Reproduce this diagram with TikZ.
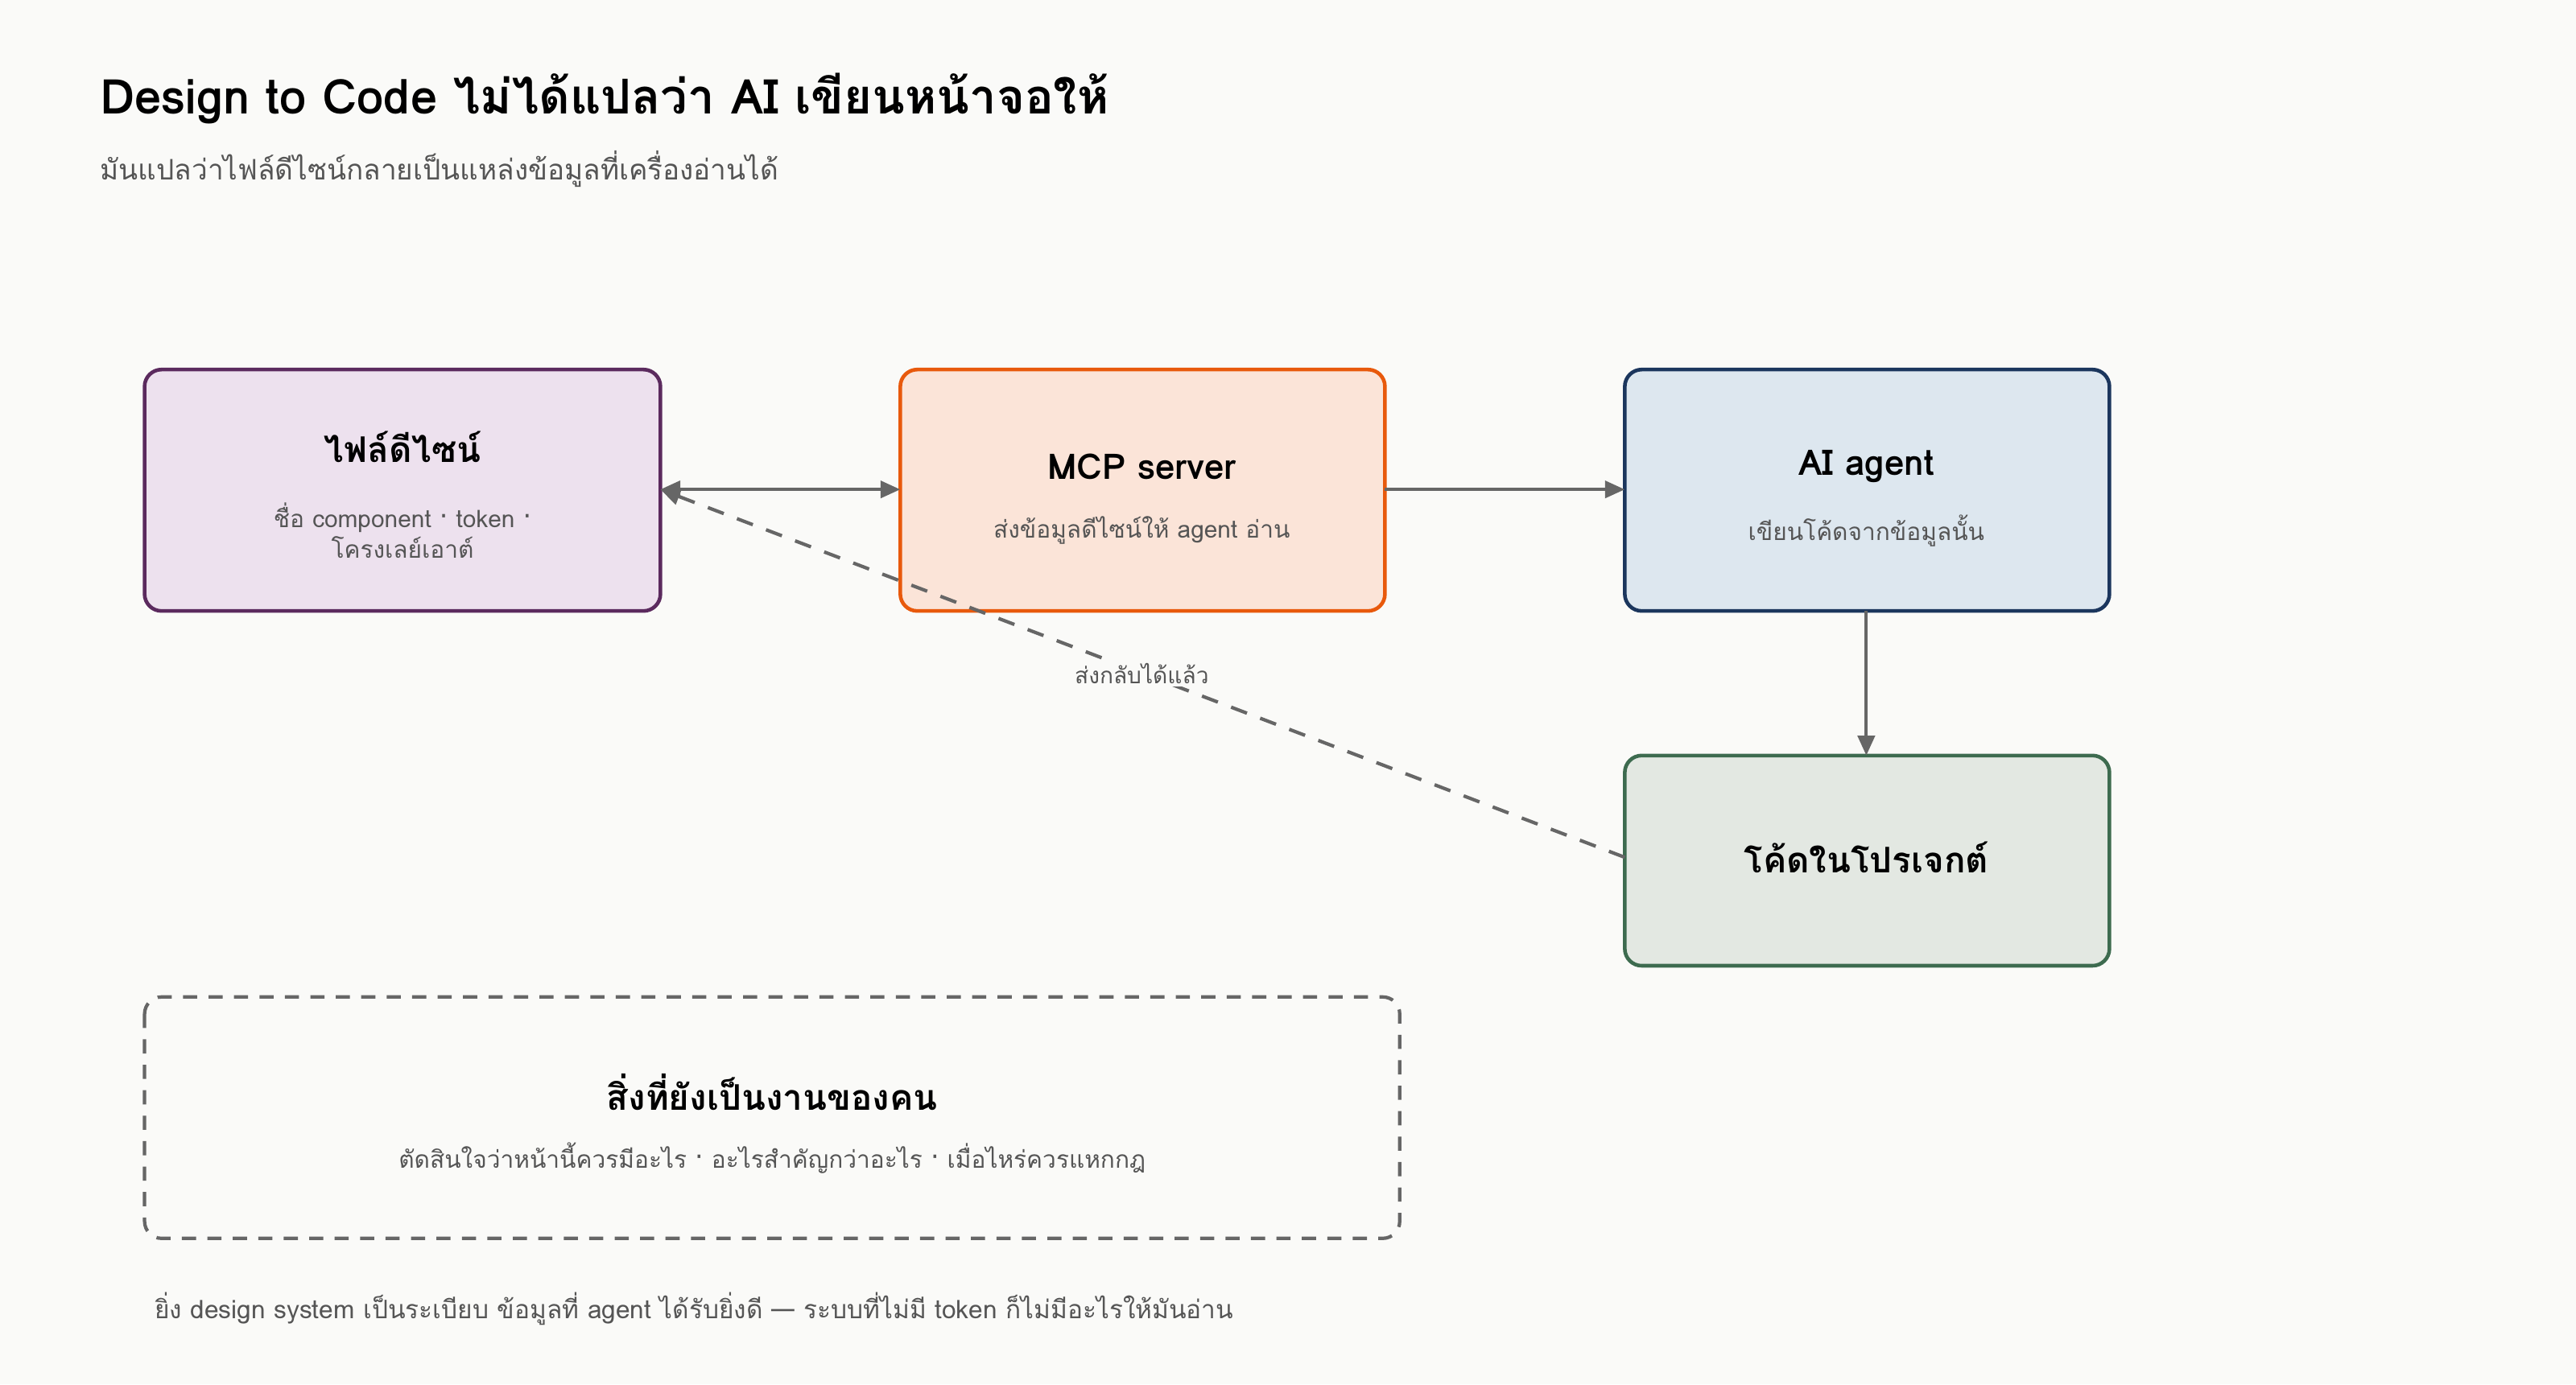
\documentclass[tikz,border=0pt]{standalone}
\usepackage{fontspec}
\setmainfont[Script=Thai]{Loma}
\usetikzlibrary{arrows.meta}
\definecolor{bgpaper}{HTML}{FAFAF8}
\definecolor{linegray}{HTML}{666666}
\definecolor{textgray}{HTML}{555555}
\definecolor{designline}{HTML}{5B2A5E}
\definecolor{designfill}{HTML}{EDE1EE}
\definecolor{mcpline}{HTML}{E8590C}
\definecolor{mcpfill}{HTML}{FBE4D8}
\definecolor{agentline}{HTML}{1B365D}
\definecolor{agentfill}{HTML}{DDE7EF}
\definecolor{codeline}{HTML}{3D6B4F}
\definecolor{codefill}{HTML}{E3E8E2}
\tikzset{
  box/.style={draw, line width=1.3pt, rounded corners=6pt},
  boxtitle/.style={font=\bfseries\fontsize{12.5}{15}\selectfont, text=black},
  boxsub/.style={font=\fontsize{8.5}{11}\selectfont, text=textgray, align=center},
  flow/.style={-{Triangle[length=7pt,width=6pt]}, line width=1.2pt, draw=linegray},
}
\begin{document}
\begin{tikzpicture}[x=0.02041cm,y=-0.02041cm]
    \fill[bgpaper] (0,0) rectangle (1568,843);
    \useasboundingbox (0,0) rectangle (1568,843);
    % Title
    \node[anchor=west, font=\bfseries\fontsize{17}{20}\selectfont] (title) at (55,60) {Design to Code ไม่ได้แปลว่า AI เขียนหน้าจอให้};
    \node[anchor=west, font=\fontsize{10}{12}\selectfont, text=textgray] (subtitle) at (55,103) {มันแปลว่าไฟล์ดีไซน์กลายเป็นแหล่งข้อมูลที่เครื่องอ่านได้};
    % Boxes
    \draw[box, draw=designline, fill=designfill] (88,225) rectangle (402,372);
    \draw[box, draw=mcpline, fill=mcpfill] (548,225) rectangle (843,372);
    \draw[box, draw=agentline, fill=agentfill] (989,225) rectangle (1284,372);
    \draw[box, draw=codeline, fill=codefill] (989,460) rectangle (1284,588);
    \draw[box, dashed, dash pattern=on 5pt off 4pt, draw=linegray, line width=1.2pt] (88,607) rectangle (852,754);
    % Texts
    \node[boxtitle] (dtitle) at (245,272) {ไฟล์ดีไซน์};
    \node[boxsub] (dsub) at (245,323) {ชื่อ component · token ·\\โครงเลย์เอาต์};
    \node[boxtitle] (mtitle) at (695,284) {MCP server};
    \node[boxsub] (msub) at (695,323) {ส่งข้อมูลดีไซน์ให้ agent อ่าน};
    \node[boxtitle] (atitle) at (1136,284) {AI agent};
    \node[boxsub] (asub) at (1136,323) {เขียนโค้ดจากข้อมูลนั้น};
    \node[boxtitle] (ctitle) at (1136,522) {โค้ดในโปรเจกต์};
    \node[boxtitle] (htitle) at (470,665) {สิ่งที่ยังเป็นงานของคน};
    \node[boxsub] (hsub) at (470,705) {ตัดสินใจว่าหน้านี้ควรมีอะไร · อะไรสำคัญกว่าอะไร · เมื่อไหร่ควรแหกกฎ};
    \node[anchor=west, font=\fontsize{9}{11}\selectfont, text=textgray] (note) at (88,797) {ยิ่ง design system เป็นระเบียบ ข้อมูลที่ agent ได้รับยิ่งดี — ระบบที่ไม่มี token ก็ไม่มีอะไรให้มันอ่าน};
    % Connectors
    \coordinate (dE) at (402,298);
    \coordinate (mW) at (548,298);
    \coordinate (mE) at (843,298);
    \coordinate (aW) at (989,298);
    \coordinate (aS) at (1136,372);
    \coordinate (cN) at (1136,460);
    \coordinate (cW) at (989,522);
    \draw[flow, {Triangle[length=7pt,width=6pt]}-{Triangle[length=7pt,width=6pt]}] (dE) -- (mW);
    \draw[flow] (mE) -- (aW);
    \draw[flow] (aS) -- (cN);
    \draw[flow, dashed, dash pattern=on 6pt off 5pt] (cW) -- (dE);
    \node[fill=bgpaper, inner sep=1pt, font=\fontsize{8}{10}\selectfont, text=textgray] (back) at (695,410) {ส่งกลับได้แล้ว};
\end{tikzpicture}
\end{document}
